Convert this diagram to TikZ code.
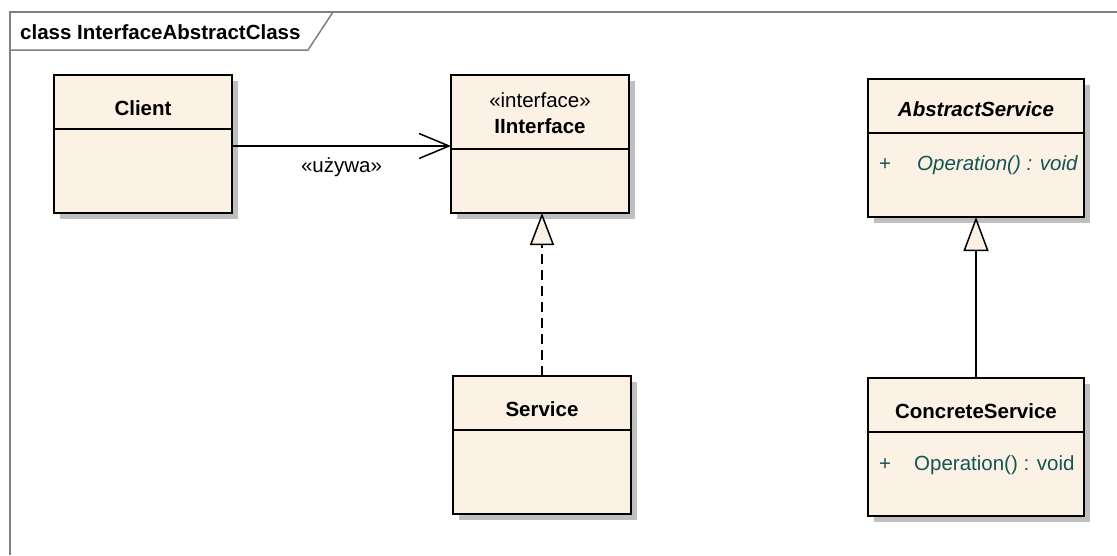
\documentclass[tikz,border=0pt]{standalone}
\usepackage{fontspec}
\setmainfont{Liberation Sans}
\usetikzlibrary{arrows.meta,shadows}

\definecolor{classfill}{RGB}{251,241,228}
\definecolor{opcolor}{RGB}{20,85,85}
\definecolor{framegray}{RGB}{128,128,128}

\tikzset{
  classbox/.style={draw, line width=1.8pt, fill=classfill, inner sep=0pt, outer sep=0pt,
    anchor=north west, minimum height=138pt,
    drop shadow={shadow xshift=6pt, shadow yshift=-6pt, fill=black!25, opacity=1}},
  divider/.style={line width=1.5pt},
  classname/.style={font=\fontsize{20.5}{24}\selectfont\bfseries, anchor=base, inner sep=0pt},
  stereo/.style={font=\fontsize{20.5}{24}\selectfont, anchor=base, inner sep=0pt},
  optext/.style={font=\fontsize{20.5}{24}\selectfont, text=opcolor, anchor=base west, inner sep=0pt},
  uses/.style={line width=1.5pt, -{Straight Barb[length=30pt, width=25pt, line width=1.5pt]}},
  realize/.style={line width=1.5pt, dash pattern=on 10pt off 6pt,
    -{Triangle[length=32pt, width=24pt, fill=classfill, line width=1.5pt]}},
  inherit/.style={line width=1.5pt,
    -{Triangle[length=34pt, width=25pt, fill=classfill, line width=1.5pt]}}
}

\begin{document}
\begin{tikzpicture}[x=1pt, y=-1pt]
    \useasboundingbox (0,0) rectangle (1117,555);

    % frame
    \draw[framegray, line width=2pt] (10,555) -- (10,12) -- (1117,12);
    \draw[framegray, line width=1.5pt] (10,50) -- (308,50) -- (333,12);
    \node[classname, anchor=base west] (title) at (20,39) {class InterfaceAbstractClass};

    % classes
    \node[classbox, minimum width=178pt] (client) at (54,75) {};
    \node[classbox, minimum width=178pt] (iface) at (451,75) {};
    \node[classbox, minimum width=178pt] (service) at (453,376) {};
    \node[classbox, minimum width=216pt] (abstract) at (868,79) {};
    \node[classbox, minimum width=216pt] (concrete) at (868,378) {};

    \draw[divider] ([yshift=-54pt]client.north west) -- ([yshift=-54pt]client.north east);
    \draw[divider] ([yshift=-74pt]iface.north west) -- ([yshift=-74pt]iface.north east);
    \draw[divider] ([yshift=-54pt]service.north west) -- ([yshift=-54pt]service.north east);
    \draw[divider] ([yshift=-54pt]abstract.north west) -- ([yshift=-54pt]abstract.north east);
    \draw[divider] ([yshift=-54pt]concrete.north west) -- ([yshift=-54pt]concrete.north east);

    \node[classname] (clientname) at (143,115) {Client};
    \node[stereo] (ifacestereo) at (540,107) {«interface»};
    \node[classname] (ifacename) at (540,133) {IInterface};
    \node[classname] (servicename) at (542,416) {Service};
    \node[classname, font=\fontsize{20.5}{24}\selectfont\bfseries\itshape] (abstractname) at (976,116) {AbstractService};
    \node[optext] (abstractplus) at (879,170) {+};
    \node[optext, font=\fontsize{20.5}{24}\selectfont\itshape] (abstractop) at (917,170) {Operation() : void};
    \node[classname] (concretename) at (976,418) {ConcreteService};
    \node[optext] (concreteplus) at (879,470) {+};
    \node[optext] (concreteop) at (914,470) {Operation() : void};

    % connectors
    \draw[uses] ([yshift=-2pt]client.east) -- ([yshift=-2pt]iface.west)
        node[midway, stereo, yshift=-26pt] (useslabel) {«używa»};
    \draw[realize] (service.north) -- (service.north |- iface.south);
    \draw[inherit] (concrete.north) -- (abstract.south);

\end{tikzpicture}
\end{document}
